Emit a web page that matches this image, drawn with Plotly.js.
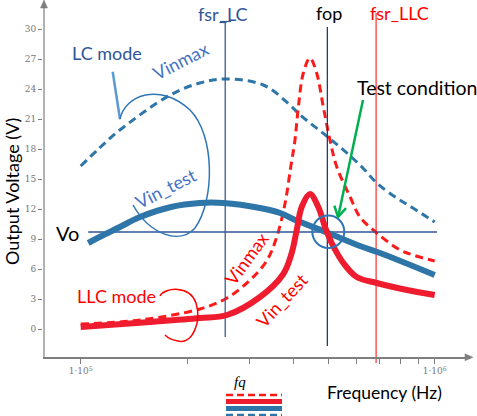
<!DOCTYPE html>
<html><head><meta charset="utf-8">
<script src="https://cdn.plot.ly/plotly-3.0.1.min.js"></script>
<style>html,body{margin:0;padding:0;background:#fff}#chart{width:477px;height:416px}</style>
</head><body><div id="chart"></div>
<script>
// ---- data (frequency in Hz, output voltage in V) ----
const lcVinmaxFreq = [1.0e5, 1.13e5, 1.29e5, 1.79e5, 2.17e5, 2.56e5, 3.28e5, 3.90e5, 4.17e5, 4.99e5, 5.65e5, 6.27e5, 6.86e5, 7.81e5, 8.68e5, 1.0e6];
const lcVinmaxV    = [16.3, 18.1, 19.9, 23.4, 24.6, 25.0, 24.4, 22.4, 21.4, 19.2, 17.6, 16.1, 14.6, 13.1, 12.1, 10.7];

const lcVintestFreq = [1.05e5, 1.13e5, 1.29e5, 1.47e5, 1.80e5, 2.17e5, 2.53e5, 3.21e5, 3.66e5, 3.98e5, 5.0e5, 6.15e5, 7.01e5, 1.0e6];
const lcVintestV    = [8.6, 9.2, 10.2, 11.2, 12.2, 12.6, 12.6, 12.1, 11.6, 11.0, 9.6, 8.3, 7.6, 5.4];

const llcVinmaxFreq = [1.0e5, 1.47e5, 2.17e5, 2.59e5, 3.01e5, 3.35e5, 3.58e5, 3.78e5, 3.92e5, 4.03e5, 4.12e5, 4.255e5, 4.443e5, 4.64e5, 4.846e5, 5.06e5, 5.29e5, 5.77e5, 6.15e5, 6.86e5, 7.98e5, 8.68e5, 1.0e6];
const llcVinmaxV    = [0.5, 0.9, 2.0, 3.1, 4.9, 6.8, 9.2, 12.6, 16.2, 18.9, 22.2, 25.6, 27.1, 25.6, 22.2, 18.9, 16.2, 13.2, 11.2, 9.6, 7.9, 7.4, 6.8];

const llcVintestFreq = [1.0e5, 1.57e5, 2.17e5, 2.59e5, 3.21e5, 3.735e5, 3.945e5, 4.076e5, 4.21e5, 4.443e5, 4.69e5, 4.90e5, 5.117e5, 5.52e5, 6.02e5, 6.86e5, 8.35e5, 1.0e6];
const llcVintestV    = [0.2, 0.7, 1.1, 1.4, 3.2, 5.5, 7.6, 9.9, 12.2, 13.5, 12.2, 10.2, 8.6, 6.6, 5.2, 4.6, 3.9, 3.4];

// marker frequencies: fsr_LC, fop, fsr_LLC
const markerNames = ['fsr_LC', 'fop', 'fsr_LLC'];
const markerFreq  = [2.56e5, 4.975e5, 6.83e5];
const markerTop   = [30.8, 30.2, 31.6];
const markerBot   = [-0.8, -1.7, -3.4];

const voLevel = 9.7;
const voFreq  = [1.05e5, 1.015e6];

const yTickVals = [0, 3, 6, 9, 12, 15, 18, 21, 24, 27, 30];
const xTickVals = [1e5, 1e6];
const xTickText = ['1·10<sup>5</sup>', '1·10<sup>6</sup>'];
const xMinorTickVals = [2e5, 3e5, 4e5, 5e5, 6e5, 7e5, 8e5, 9e5];

// ---- layout helpers (pixel -> paper) ----
const W = 477, H = 416, ML = 43, MR = 7, MT = 0, MB = 50;
const PW = W - ML - MR, PH = H - MT - MB;
const P = x => (x - ML) / PW;
const Q = y => (PH + MT - y) / PH;
function pathPx(segs) {
  return segs.map(s => {
    const c = s[0]; const out = [c];
    for (let i = 1; i < s.length; i += 2) out.push(P(s[i]).toFixed(4) + ',' + Q(s[i + 1]).toFixed(4));
    return out.join(' ');
  }).join(' ');
}

const BLUE = '#2E75A8', RED = '#EE1C2E', DARKBLUE = '#2F5597', TXTBLUE = '#4472C4';
const AXIS = '#7f7f7f';
const FONT = 'Lato, "Open Sans", sans-serif';

const traces = [
  {x: lcVinmaxFreq, y: lcVinmaxV, mode: 'lines', line: {color: BLUE, width: 3, dash: '8px,5px', shape: 'spline', smoothing: 1}},
  {x: llcVinmaxFreq, y: llcVinmaxV, mode: 'lines', line: {color: '#FF1A1A', width: 3, dash: '8px,5px', shape: 'spline', smoothing: 1}},
  {x: voFreq, y: [voLevel, voLevel], mode: 'lines', line: {color: DARKBLUE, width: 1.5}},
];
const markerColors = ['#3A5F8A', '#1F3F66', '#FF0000'];
markerFreq.forEach((f, i) => {
  traces.push({x: [f, f], y: [markerBot[i], markerTop[i]], mode: 'lines', line: {color: markerColors[i], width: i === 2 ? 1 : 1.3}});
});
traces.push({x: lcVintestFreq, y: lcVintestV, mode: 'lines', line: {color: BLUE, width: 6, shape: 'spline', smoothing: 1}});
traces.push({x: llcVintestFreq, y: llcVintestV, mode: 'lines', line: {color: RED, width: 6, shape: 'spline', smoothing: 1}});

const ann = (text, x, y, opts = {}) => Object.assign({
  text, x: P(x), y: Q(y), xref: 'paper', yref: 'paper', showarrow: false,
  xanchor: 'center', yanchor: 'middle', font: {family: FONT, size: 18, color: '#000'}
}, opts);

const annotations = [
  ann(markerNames[0], 223, 14, {font: {family: FONT, size: 18, color: DARKBLUE}}),
  ann(markerNames[1], 329, 13, {font: {family: FONT, size: 18, color: '#000'}}),
  ann(markerNames[2], 399, 13, {font: {family: FONT, size: 18, color: '#FF0000'}}),
  ann('Test condition', 355, 87, {xanchor: 'left', font: {family: FONT, size: 19.5, color: '#000'}}),
  ann('LC mode', 106.5, 53, {font: {family: FONT, size: 18, color: DARKBLUE}}),
  ann('Vinmax', 180, 61, {textangle: -27, font: {family: FONT, size: 18, color: TXTBLUE}}),
  ann('Vin_test', 166, 188, {textangle: -27, font: {family: FONT, size: 18, color: TXTBLUE}}),
  ann('Vo', 67.5, 233, {font: {family: FONT, size: 20, color: '#000'}}),
  ann('LLC mode', 116.5, 296, {font: {family: FONT, size: 18, color: '#FF0000'}}),
  ann('Vinmax', 246, 259, {textangle: -54, font: {family: FONT, size: 18, color: '#FF0000'}}),
  ann('Vin_test', 282, 300, {textangle: -47, font: {family: FONT, size: 18, color: '#FF0000'}}),
  ann('Output Voltage (V)', 12, 192, {textangle: -90}),
  ann('Frequency (Hz)', 384, 392, {font: {family: FONT, size: 17.5, color: '#000'}}),
  ann('<i>fq</i>', 240, 382, {font: {family: '"Liberation Serif", serif', size: 15, color: '#000'}}),
];

const shp = (o) => Object.assign({xref: 'paper', yref: 'paper', layer: 'above'}, o);
const shapes = [
  // y axis line + arrow heads
  shp({type: 'line', x0: P(44), x1: P(44), y0: Q(359), y1: Q(6), line: {color: AXIS, width: 1.2}}),
  shp({type: 'path', path: pathPx([['M', 40.5, 8], ['L', 44, 0], ['L', 47.5, 8], ['Z']]), fillcolor: AXIS, line: {color: AXIS, width: 0.5}}),
  shp({type: 'path', path: pathPx([['M', 465, 353.8], ['L', 473, 357.3], ['L', 465, 360.8], ['Z']]), fillcolor: AXIS, line: {color: AXIS, width: 0.5}}),
  // fsr_LC top tick
  shp({type: 'line', x0: P(220), x1: P(231), y0: Q(21.5), y1: Q(21.5), line: {color: '#3A5F8A', width: 1.2}}),
  // LC mode pointer + loop
  shp({type: 'line', x0: P(112.7), x1: P(120), y0: Q(71.7), y1: Q(119.3), line: {color: '#5B9BD5', width: 2.5}}),
  shp({type: 'path', path: pathPx([['M', 120, 119], ['C', 125, 95, 160, 82, 190, 110], ['C', 215, 135, 215, 200, 195, 228], ['C', 180, 245, 150, 235, 133, 205]]), line: {color: '#2E75B6', width: 1.5}}),
  // LLC mode loop
  shp({type: 'path', path: pathPx([['M', 160, 296], ['C', 165, 287, 190, 285, 196, 303], ['C', 202, 322, 192, 345, 178, 341], ['C', 172, 340, 168, 338, 165, 335]]), line: {color: '#FF0000', width: 1.5}}),
  // test condition circle
  shp({type: 'circle', x0: P(312.3), x1: P(344.3), y0: Q(248), y1: Q(215.5), line: {color: '#2E75B6', width: 2}}),
  // green arrow
  shp({type: 'line', x0: P(363), x1: P(338.5), y0: Q(100), y1: Q(215), line: {color: '#00B050', width: 2.5}}),
  shp({type: 'path', path: pathPx([['M', 334.3, 205.6], ['L', 338, 217], ['L', 346, 208.1]]), line: {color: '#00B050', width: 2.5}}),
  // legend-like strokes under fq
  shp({type: 'line', x0: P(226), x1: P(282), y0: Q(395), y1: Q(395), line: {color: '#FF1A1A', width: 2.5, dash: '7px,4px'}}),
  shp({type: 'line', x0: P(226), x1: P(282), y0: Q(401.5), y1: Q(401.5), line: {color: RED, width: 5}}),
  shp({type: 'line', x0: P(226), x1: P(282), y0: Q(408.5), y1: Q(408.5), line: {color: BLUE, width: 5}}),
  shp({type: 'line', x0: P(226), x1: P(282), y0: Q(415), y1: Q(415), line: {color: BLUE, width: 2.5, dash: '7px,4px'}}),
];

const layout = {
  width: W, height: H,
  margin: {l: ML, r: MR, t: MT, b: MB, pad: 0},
  paper_bgcolor: '#fff', plot_bgcolor: '#fff',
  showlegend: false,
  xaxis: {
    type: 'log', range: [Math.log10(1e5) - (80.7 - ML) / 354, Math.log10(1e5) + (W - MR - 80.7) / 354],
    anchor: 'free', position: Q(357.3),
    showgrid: false, zeroline: false, showline: true, linecolor: AXIS, linewidth: 1.2,
    tickmode: 'array', tickvals: xTickVals, ticktext: xTickText,
    ticks: 'outside', ticklen: 5, tickcolor: AXIS,
    minor: {tickmode: 'array', tickvals: xMinorTickVals, ticks: 'outside', ticklen: 5, tickcolor: AXIS, showgrid: false},
    tickfont: {family: '"DejaVu Serif", serif', size: 9, color: '#777'}
  },
  yaxis: {
    range: [32.9 - PH / 10, 32.9],
    showgrid: false, zeroline: false, showline: false,
    tickmode: 'array', tickvals: yTickVals,
    ticks: 'outside', ticklen: 4, tickcolor: AXIS,
    tickfont: {family: '"DejaVu Serif", serif', size: 9, color: '#777'}
  },
  annotations, shapes
};

Plotly.newPlot('chart', traces, layout, {staticPlot: true, displayModeBar: false});
</script>
</body></html>
